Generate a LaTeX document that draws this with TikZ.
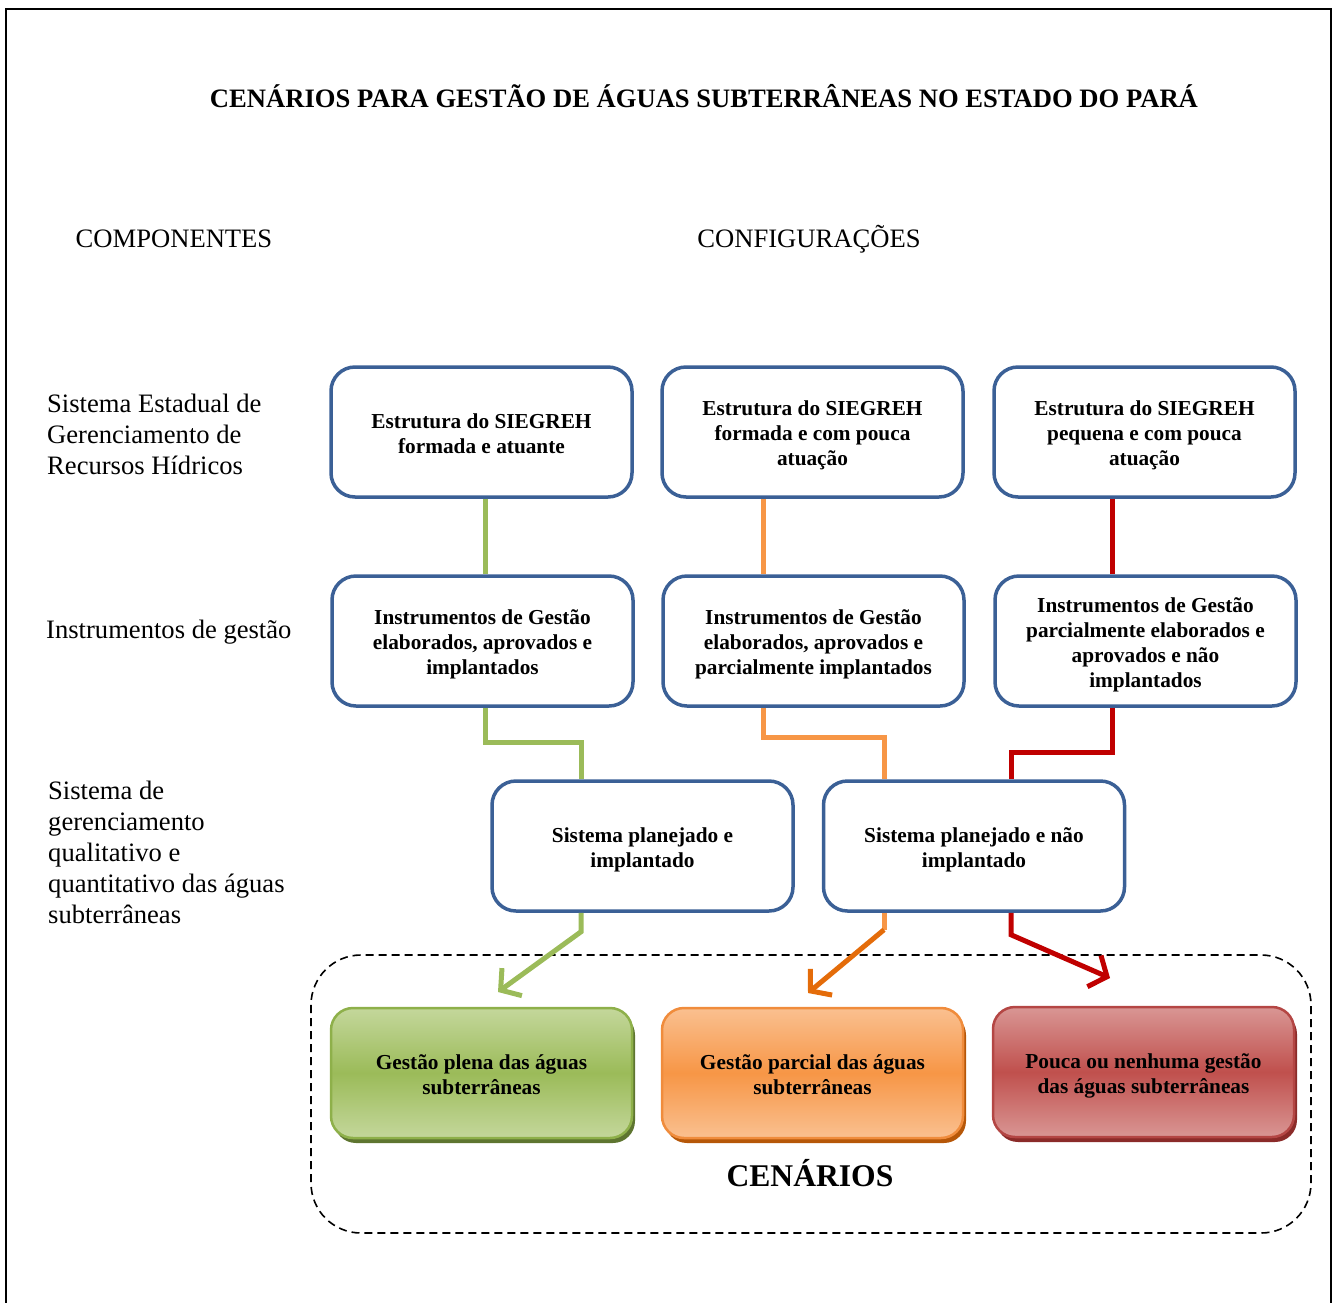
\documentclass[tikz,border=0pt]{standalone}
\usepackage{fontspec}
\setmainfont{Liberation Serif}
\usetikzlibrary{arrows.meta,shadows,calc}
\definecolor{boxblue}{RGB}{59,96,150}
\definecolor{gline}{RGB}{155,187,89}
\definecolor{oline}{RGB}{247,150,70}
\definecolor{oarrow}{RGB}{228,108,10}
\definecolor{rline}{RGB}{192,0,0}
\definecolor{gmid}{RGB}{155,187,89}
\definecolor{glight}{RGB}{196,215,155}
\definecolor{gdark}{RGB}{94,117,48}
\definecolor{gborder}{RGB}{142,176,74}
\definecolor{omid}{RGB}{247,150,70}
\definecolor{olight}{RGB}{250,192,144}
\definecolor{odark}{RGB}{182,87,8}
\definecolor{oborder}{RGB}{240,140,60}
\definecolor{rmid}{RGB}{192,80,77}
\definecolor{rlight}{RGB}{217,150,148}
\definecolor{rdark}{RGB}{139,43,41}
\definecolor{rborder}{RGB}{180,70,68}
\newcommand{\bxt}[1]{\raisebox{-3.5pt}[\height][\depth]{\begin{tabular}{@{}c@{}}#1\end{tabular}}}
\tikzset{
  cfgbox/.style={draw=boxblue, line width=3.5pt, rounded corners=24pt, fill=white,
    minimum width=301pt, minimum height=130pt,
    font=\bfseries\fontsize{21.3}{25}\selectfont},
  scenbox/.style={line width=2.5pt, rounded corners=22pt,
    minimum width=301pt, minimum height=130pt,
    font=\bfseries\fontsize{21.3}{25}\selectfont},
  lbl/.style={font=\fontsize{26.6}{31}\selectfont, align=left, anchor=west, inner sep=0pt},
  conn/.style={line width=5pt},
  tipstyle/.style={-{Straight Barb[length=14pt,width=34pt]}}
}
\begin{document}
\begin{tikzpicture}[x=1pt,y=-1pt]
\useasboundingbox (0,0) rectangle (1334,1302);
\draw[line width=2pt] (6,1320) -- (6,9) -- (1331,9) -- (1331,1320);

\node[font=\bfseries\fontsize{26.6}{31}\selectfont, anchor=base, inner sep=0pt] (title) at (704,107)
  {CENÁRIOS PARA GESTÃO DE ÁGUAS SUBTERRÂNEAS NO ESTADO DO PARÁ};
\node[font=\fontsize{26.6}{31}\selectfont, anchor=base, inner sep=0pt] (comp) at (174,247) {COMPONENTES};
\node[font=\fontsize{26.6}{31}\selectfont, anchor=base, inner sep=0pt] (conf) at (809,247) {CONFIGURAÇÕES};

\node[lbl] (l1) at (47,434) {Sistema Estadual de\\Gerenciamento de\\Recursos Hídricos};
\node[lbl] (l2) at (46,632) {Instrumentos de gestão};
\node[lbl] (l3) at (48,852) {Sistema de\\gerenciamento\\qualitativo e\\quantitativo das águas\\subterrâneas};

\node[cfgbox] (r1a) at (481.5,432) {\bxt{Estrutura do SIEGREH\\formada e atuante}};
\node[cfgbox] (r1b) at (812.5,432) {\bxt{Estrutura do SIEGREH\\formada e com pouca\\atuação}};
\node[cfgbox] (r1c) at (1144.5,432) {\bxt{Estrutura do SIEGREH\\pequena e com pouca\\atuação}};

\node[cfgbox] (r2a) at (482.5,641) {\bxt{Instrumentos de Gestão\\elaborados, aprovados e\\implantados}};
\node[cfgbox] (r2b) at (813.5,641) {\bxt{Instrumentos de Gestão\\elaborados, aprovados e\\parcialmente implantados}};
\node[cfgbox] (r2c) at (1145.5,641) {\bxt{Instrumentos de Gestão\\parcialmente elaborados e\\aprovados e não\\implantados}};

\node[cfgbox] (sA) at (642.5,846) {\bxt{Sistema planejado e\\implantado}};
\node[cfgbox] (sB) at (974,846) {\bxt{Sistema planejado e não\\implantado}};

% row1 -> row2
\draw[conn, gline] ([xshift=3.5pt]r1a.south) -- ([xshift=3.5pt]r1a.south |- r2a.north);
\draw[conn, oline] ([xshift=-49.5pt]r1b.south) -- ([xshift=-49.5pt]r1b.south |- r2b.north);
\draw[conn, rline] ([xshift=-32.5pt]r1c.south) -- ([xshift=-32.5pt]r1c.south |- r2c.north);

% row2 -> row3
\draw[conn, gline] ([xshift=2.5pt]r2a.south) -- ++(0,35) -| ([xshift=-61.5pt]sA.north);
\draw[conn, oline] ([xshift=-50.5pt]r2b.south) -- ++(0,30) -| ([xshift=-90pt]sB.north);
\draw[conn, rline] ([xshift=-33.5pt]r2c.south) -- ++(0,45) -| ([xshift=37pt]sB.north);

% dashed scenarios frame
\draw[dashed, dash pattern=on 8pt off 5pt, line width=1.6pt, rounded corners=50pt] (311,955) rectangle (1311,1233);

% scenario boxes
\node[scenbox, draw=gborder, top color=glight, bottom color=glight, middle color=gmid,
  general shadow={fill=gdark, shadow xshift=3pt, shadow yshift=-5pt}] (cA) at (481.5,1073)
  {\bxt{Gestão plena das águas\\subterrâneas}};
\node[scenbox, draw=oborder, top color=olight, bottom color=olight, middle color=omid,
  general shadow={fill=odark, shadow xshift=3pt, shadow yshift=-5pt}] (cB) at (812.5,1073)
  {\bxt{Gestão parcial das águas\\subterrâneas}};
\node[scenbox, draw=rborder, top color=rlight, bottom color=rlight, middle color=rmid,
  general shadow={fill=rdark, shadow xshift=3pt, shadow yshift=-5pt}] (cC) at (1143.5,1072)
  {\bxt{Pouca ou nenhuma gestão\\das águas subterrâneas}};

\node[font=\bfseries\fontsize{31.6}{36}\selectfont, inner sep=0pt] (cen) at (810,1173) {CENÁRIOS};

% row3 -> scenarios
\coordinate (tipG) at (498,992);
\coordinate (tipO) at (808,993);
\coordinate (tipR) at (1110,978);
\draw[conn, gline, tipstyle] ([xshift=-61.5pt]sA.south) -- ++(0,19) -- (tipG);
\draw[conn, oline] ([xshift=-90pt]sB.south) -- ++(0,17) coordinate (bO);
\draw[conn, oarrow, tipstyle] (bO) -- (tipO);
\draw[conn, rline, tipstyle] ([xshift=37pt]sB.south) -- ++(0,22) -- (tipR);
\end{tikzpicture}
\end{document}
